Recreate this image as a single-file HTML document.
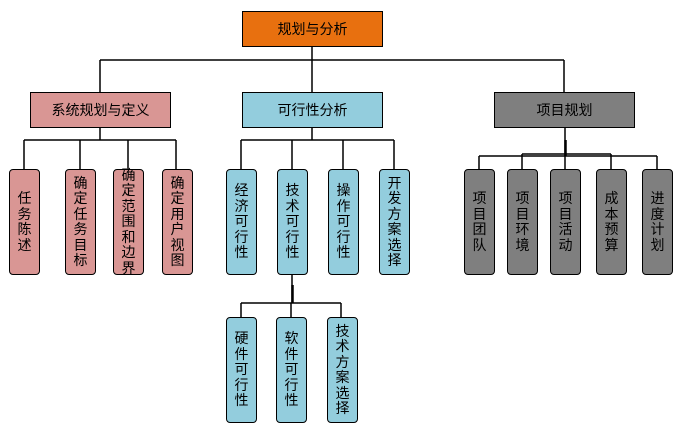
<!DOCTYPE html>
<html><head><meta charset="utf-8"><style>
body{margin:0;width:681px;height:436px;background:#fff;position:relative;overflow:hidden;font-family:"Liberation Sans","Noto Sans CJK SC","WenQuanYi Zen Hei",sans-serif;}
.b{position:absolute;box-sizing:border-box;border:1.5px solid #000;display:flex;align-items:center;justify-content:center;font-size:14px;color:#000;}
.v{border-radius:4px;width:31px;height:106px;text-align:center;line-height:15.5px;flex-direction:column;}
.r{background:#d99694}.c{background:#93cddd}.g{background:#7f7f7f}
svg{position:absolute;left:0;top:0}
</style></head><body>
<svg width="681" height="436" stroke="#000" stroke-width="1.5" fill="none">
<line x1="312" y1="46" x2="312" y2="92"/>
<line x1="100" y1="60" x2="564" y2="60"/>
<line x1="100" y1="60" x2="100" y2="92"/>
<line x1="564" y1="60" x2="564" y2="92"/>
<line x1="100" y1="127" x2="100" y2="140"/>
<line x1="24" y1="140" x2="176" y2="140"/>
<line x1="24" y1="140" x2="24" y2="169"/><line x1="80" y1="140" x2="80" y2="169"/><line x1="128" y1="140" x2="128" y2="169"/><line x1="176" y1="140" x2="176" y2="169"/>
<line x1="312" y1="127" x2="312" y2="140"/>
<line x1="241" y1="140" x2="394" y2="140"/>
<line x1="241" y1="140" x2="241" y2="169"/><line x1="292" y1="140" x2="292" y2="169"/><line x1="343" y1="140" x2="343" y2="169"/><line x1="394" y1="140" x2="394" y2="169"/>
<line x1="565" y1="127" x2="565" y2="156"/>
<line x1="565.5" y1="140" x2="565.5" y2="156" stroke-width="2.5"/>
<line x1="522" y1="154" x2="611" y2="154"/>
<line x1="479" y1="156" x2="657" y2="156"/>
<line x1="479" y1="156" x2="479" y2="169"/><line x1="522" y1="154" x2="522" y2="169"/><line x1="565" y1="156" x2="565" y2="169"/><line x1="611" y1="154" x2="611" y2="169"/><line x1="657" y1="156" x2="657" y2="169"/>
<line x1="292" y1="274" x2="292" y2="303"/>
<line x1="292.5" y1="285" x2="292.5" y2="303" stroke-width="2.5"/>
<line x1="241" y1="303" x2="341" y2="303"/>
<line x1="241" y1="303" x2="241" y2="317"/><line x1="291" y1="303" x2="291" y2="317"/><line x1="341" y1="303" x2="341" y2="317"/>
</svg>
<div class="b" style="left:242px;top:11px;width:141px;height:36px;background:#e8700f">规划与分析</div>
<div class="b r" style="left:30px;top:92px;width:141px;height:36px">系统规划与定义</div>
<div class="b c" style="left:242px;top:92px;width:141px;height:36px">可行性分析</div>
<div class="b g" style="left:494px;top:92px;width:141px;height:36px">项目规划</div>

<div class="b v r" style="left:9px;top:169px">任<br>务<br>陈<br>述</div>
<div class="b v r" style="left:65px;top:169px">确<br>定<br>任<br>务<br>目<br>标</div>
<div class="b v r" style="left:113px;top:169px">确<br>定<br>范<br>围<br>和<br>边<br>界</div>
<div class="b v r" style="left:162px;top:169px">确<br>定<br>用<br>户<br>视<br>图</div>

<div class="b v c" style="left:226px;top:169px">经<br>济<br>可<br>行<br>性</div>
<div class="b v c" style="left:277px;top:169px">技<br>术<br>可<br>行<br>性</div>
<div class="b v c" style="left:328px;top:169px">操<br>作<br>可<br>行<br>性</div>
<div class="b v c" style="left:379px;top:169px">开<br>发<br>方<br>案<br>选<br>择</div>

<div class="b v g" style="left:464px;top:169px">项<br>目<br>团<br>队</div>
<div class="b v g" style="left:507px;top:169px">项<br>目<br>环<br>境</div>
<div class="b v g" style="left:550px;top:169px">项<br>目<br>活<br>动</div>
<div class="b v g" style="left:596px;top:169px">成<br>本<br>预<br>算</div>
<div class="b v g" style="left:642px;top:169px">进<br>度<br>计<br>划</div>

<div class="b v c" style="left:226px;top:317px">硬<br>件<br>可<br>行<br>性</div>
<div class="b v c" style="left:276px;top:317px">软<br>件<br>可<br>行<br>性</div>
<div class="b v c" style="left:327px;top:317px">技<br>术<br>方<br>案<br>选<br>择</div>
</body></html>
